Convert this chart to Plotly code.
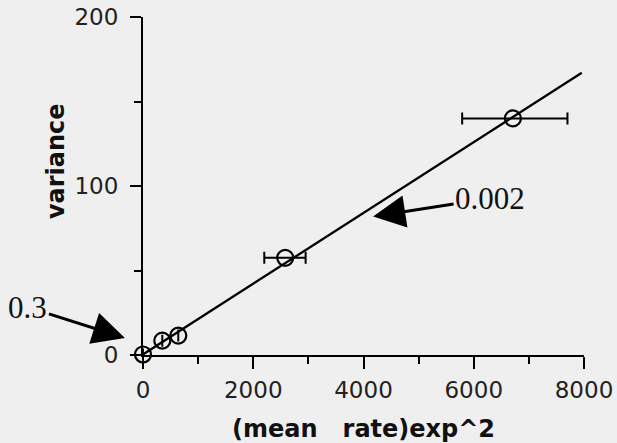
import plotly.graph_objects as go

# measured points: squared mean rate vs variance
mean_rate_sq = [0, 350, 640, 2580, 6710]
variance = [0.3, 8.5, 11.5, 57.5, 140]
err_plus = [0, 0, 0, 370, 990]
err_minus = [0, 0, 0, 380, 920]

# linear fit (intercept 0.3)
fit_x = [0, 7960]
fit_y = [0.3, 167]

x_ticks = [0, 2000, 4000, 6000, 8000]
y_ticks = [0, 100, 200]

bg = "#efefef"
sans = "DejaVu Sans"
serif = "Liberation Serif"

fig = go.Figure()

fig.add_trace(go.Scatter(
    x=fit_x, y=fit_y, mode="lines",
    line=dict(color="black", width=2.3),
    cliponaxis=False, showlegend=False, hoverinfo="skip",
))

fig.add_trace(go.Scatter(
    x=mean_rate_sq, y=variance, mode="markers",
    marker=dict(symbol="circle-open", size=16, color="black",
                line=dict(color="black", width=2.2)),
    error_x=dict(type="data", array=err_plus, arrayminus=err_minus,
                 color="black", thickness=2, width=6),
    cliponaxis=False, showlegend=False,
))

fig.update_layout(
    width=617, height=443,
    margin=dict(l=143, r=33, t=17, b=88),
    paper_bgcolor=bg, plot_bgcolor=bg,
    font=dict(family=sans, color="black"),
    xaxis=dict(
        range=[0, 8000], tickvals=x_ticks, ticktext=[str(v) for v in x_ticks],
        automargin=False,
        showgrid=False, zeroline=False, showline=True, linecolor="black",
        linewidth=2, ticks="outside", ticklen=12, tickwidth=2, tickcolor="black",
        tickfont=dict(family=sans, size=23, color="#222"),
        ticklabelstandoff=1,
        minor=dict(dtick=1000, ticks="outside", ticklen=7, tickwidth=2,
                   tickcolor="black", showgrid=False),
        title=dict(text="(mean\u00a0\u00a0\u00a0rate)exp^2",
                   font=dict(family=sans, size=24, color="#111", weight="bold"),
                   standoff=20),
    ),
    yaxis=dict(
        range=[0, 200], tickvals=y_ticks, ticktext=[str(v) for v in y_ticks],
        automargin=False,
        showgrid=False, zeroline=False, showline=True, linecolor="black",
        linewidth=2, ticks="outside", ticklen=11, tickwidth=2, tickcolor="black",
        tickfont=dict(family=sans, size=23, color="#222"),
        ticklabelstandoff=7,
        minor=dict(dtick=50, ticks="outside", ticklen=7, tickwidth=2,
                   tickcolor="black", showgrid=False),
    ),
    annotations=[
        dict(text="variance", xref="paper", yref="paper",
             x=-0.197, y=0.574, showarrow=False, textangle=-90,
             font=dict(family=sans, size=24, color="#111", weight="bold"),
             xanchor="center", yanchor="middle"),
        # intercept label, arrow tip placed just left of the origin
        dict(text="0.3", xref="paper", yref="paper", x=-0.041, y=0.050,
             ax=-97, ay=-31, showarrow=True, arrowhead=2,
             arrowsize=2.15, arrowwidth=3, arrowcolor="black",
             font=dict(family=serif, size=31, color="#111")),
        # slope label
        dict(text="0.002", x=4174, y=82, xref="x", yref="y",
             ax=117, ay=-18, showarrow=True, arrowhead=2,
             arrowsize=2.15, arrowwidth=3, arrowcolor="black",
             font=dict(family=serif, size=31, color="#111")),
    ],
)

fig.write_html("out.html")
